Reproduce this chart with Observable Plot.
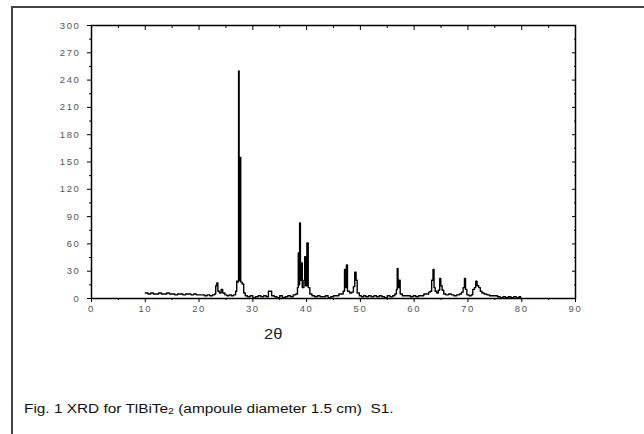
<!DOCTYPE html>
<html>
<head>
<meta charset="utf-8">
<script src="https://cdn.jsdelivr.net/npm/d3@7"></script>
<script src="https://cdn.jsdelivr.net/npm/@observablehq/plot@0.6"></script>
<style>
  html, body { margin: 0; padding: 0; background: #fff; overflow: hidden; }
  #page { position: relative; width: 644px; height: 434px; font-family: "Liberation Sans", Arial, sans-serif; }
  #border { position: absolute; left: 11px; top: 6px; width: 700px; height: 500px; border-left: 2px solid #444; border-top: 2px solid #444; }
  #chart { position: absolute; left: 0; top: 0; }
  #xlabel { position: absolute; left: 264px; top: 325px; font-size: 15px; color: #222; transform: scaleX(1.1); transform-origin: left top; }
  #caption { position: absolute; left: 24px; top: 402px; font-size: 12.5px; color: #111; white-space: pre; transform: scaleX(1.23); transform-origin: left top; }
  #caption sub { font-size: 8.5px; vertical-align: -1px; }
</style>
</head>
<body>
<div id="page">
  <div id="border"></div>
  <div id="chart"></div>
  <div id="xlabel">2θ</div>
  <div id="caption">Fig. 1 XRD for TlBiTe<sub>2</sub> (ampoule diameter 1.5 cm)  S1.</div>
</div>
<script>
// 2θ positions (degrees)
const twoTheta = [
  10.0,10.5,11.0,11.5,12.0,12.5,13.0,13.5,14.0,14.5,15.0,15.5,16.0,16.5,17.0,17.5,18.0,18.5,19.0,19.5,
  20.0,20.5,21.0,21.5,22.0,22.5,22.9,23.1,23.3,23.5,23.8,24.1,24.4,24.8,25.2,25.6,26.0,26.4,26.8,27.0,
  27.2,27.35,27.45,27.6,27.75,28.0,28.3,28.6,29.0,29.5,30.0,30.5,31.0,31.5,32.0,32.5,32.9,33.2,33.5,34.0,
  34.5,35.0,35.5,36.0,36.5,37.0,37.5,38.0,38.3,38.45,38.6,38.7,38.85,39.0,39.2,39.5,39.65,39.8,40.05,40.3,
  40.6,41.0,41.5,42.0,42.5,43.0,43.5,44.0,44.5,45.0,45.5,46.0,46.5,46.8,47.05,47.2,47.4,47.6,48.0,48.4,
  48.7,48.95,49.2,49.4,49.8,50.2,50.6,51.0,51.5,52.0,52.5,53.0,53.5,54.0,54.5,55.0,55.5,56.0,56.4,56.7,
  56.85,57.0,57.2,57.4,57.8,58.3,58.8,59.3,59.8,60.3,60.8,61.3,61.8,62.3,62.7,63.0,63.25,63.5,63.7,63.9,
  64.2,64.5,64.75,64.95,65.2,65.5,65.9,66.4,66.9,67.4,67.9,68.4,68.8,69.1,69.35,69.55,69.8,70.2,70.6,70.9,
  71.2,71.45,71.7,72.0,72.3,72.6,73.0,73.5,74.0,74.5,75.0,75.5,76.0,76.5,77.0,77.5,78.0,78.5,79.0,79.5,
  79.8
];
// Intensity (counts)
const intensity = [
  6,5,6,5,5,6,5,5,6,5,5,4,5,5,4,5,5,4,5,4,
  4,4,3,4,3,4,5,14,17,8,6,10,6,4,3,4,3,4,8,19,
  18,250,20,155,18,16,6,3,2,3,1,2,3,2,3,2,8,8,3,2,
  1,3,1,2,3,2,4,5,12,50,15,83,20,39,12,20,46,14,61,12,
  5,3,2,3,2,2,3,1,2,3,3,5,5,8,32,12,37,8,6,7,
  13,29,20,6,3,2,3,2,3,2,3,2,3,2,1,3,2,3,5,10,
  33,12,20,5,3,3,3,2,3,2,3,3,5,5,7,8,20,32,12,8,
  6,9,22,14,9,5,4,5,4,3,4,5,7,12,22,10,4,3,4,10,
  12,19,14,12,8,6,5,4,3,3,3,2,1,2,1,2,1,2,1,2,
  0
];
const xMajor = [0,10,20,30,40,50,60,70,80,90];
const xMinor = [5,15,25,35,45,55,65,75,85];
const yMajor = [0,30,60,90,120,150,180,210,240,270,300];
const yMinor = [15,45,75,105,135,165,195,225,255,285];

const data = twoTheta.map((t, i) => ({t, v: intensity[i]}));

const chart = Plot.plot({
  width: 644,
  height: 340,
  marginLeft: 91,
  marginRight: 69,
  marginTop: 25,
  marginBottom: 42,
  style: {fontFamily: "Liberation Sans, Arial, sans-serif", fontSize: "9.5px", letterSpacing: "1.6px", background: "transparent"},
  x: {domain: [0, 90]},
  y: {domain: [0, 300]},
  marks: [
    Plot.line(data, {x: "t", y: "v", stroke: "#000", strokeWidth: 1.4, curve: "step-after"}),
    Plot.axisX(xMajor, {anchor: "bottom", tickSize: 4, tickPadding: 3, label: null, fill: "#555"}),
    Plot.axisX(xMinor, {anchor: "bottom", tickSize: 2, tickFormat: () => "", label: null}),
    Plot.axisX(xMajor, {anchor: "top", tickSize: -4, tickFormat: () => "", label: null}),
    Plot.axisX(xMinor, {anchor: "top", tickSize: -2, tickFormat: () => "", label: null}),
    Plot.axisY(yMajor, {anchor: "left", tickSize: 4, tickPadding: 7, label: null, fill: "#555"}),
    Plot.axisY(yMinor, {anchor: "left", tickSize: 2, tickFormat: () => "", label: null}),
    Plot.axisY(yMajor, {anchor: "right", tickSize: -4, tickFormat: () => "", label: null}),
    Plot.axisY(yMinor, {anchor: "right", tickSize: -2, tickFormat: () => "", label: null}),
    Plot.frame({stroke: "#000", strokeWidth: 1.5})
  ]
});
document.getElementById("chart").appendChild(chart);
</script>
</body>
</html>
